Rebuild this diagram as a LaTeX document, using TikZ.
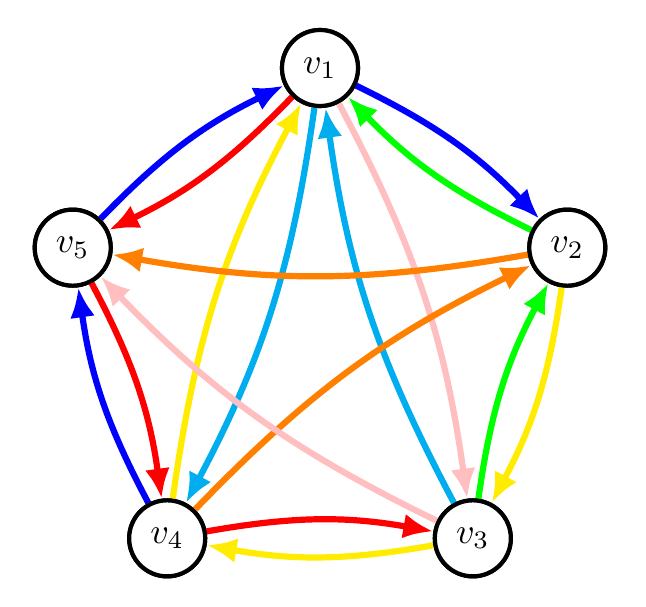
\documentclass[tikz,border=0pt]{standalone}
\usepackage{graphicx}
\usetikzlibrary{arrows.meta}
\definecolor{cBlue}{RGB}{0,0,255}
\definecolor{cRed}{RGB}{255,0,0}
\definecolor{cGreen}{RGB}{0,255,0}
\definecolor{cYellow}{RGB}{255,236,0}
\definecolor{cCyan}{RGB}{0,174,239}
\definecolor{cPink}{RGB}{255,190,192}
\definecolor{cOrange}{RGB}{255,128,0}
\newcommand{\vlab}[1]{\scalebox{3.6}{$v_{#1}$}}
\tikzset{
  vert/.style={circle, draw=black, line width=4.2pt, fill=white, minimum size=76pt, inner sep=0pt},
  edge/.style={line width=6.2pt, -{Latex[length=30pt,width=25pt]}, bend left=10},
}
\begin{document}
\begin{tikzpicture}[x=1pt,y=1pt]
\useasboundingbox (0,0) rectangle (646,606);
\begin{scope}[shift={(320pt,278pt)}]
\node[vert] (v1) at (90:260pt) {\vlab{1}};
\node[vert] (v2) at (18:260pt) {\vlab{2}};
\node[vert] (v3) at (-54:260pt) {\vlab{3}};
\node[vert] (v4) at (-126:260pt) {\vlab{4}};
\node[vert] (v5) at (162:260pt) {\vlab{5}};
\end{scope}
% outer / inner cycle edges
\draw[edge, cBlue] (v5) to (v1);
\draw[edge, cRed] (v1) to (v5);
\draw[edge, cBlue] (v1) to (v2);
\draw[edge, cGreen] (v2) to (v1);
\draw[edge, cYellow] (v2) to (v3);
\draw[edge, cGreen] (v3) to (v2);
\draw[edge, cYellow] (v3) to (v4);
\draw[edge, cRed] (v4) to (v3);
\draw[edge, cBlue] (v4) to (v5);
\draw[edge, cRed] (v5) to (v4);
% diagonals
\draw[edge, cCyan] (v1) to (v4);
\draw[edge, cYellow] (v4) to (v1);
\draw[edge, cPink] (v1) to (v3);
\draw[edge, cCyan] (v3) to (v1);
\draw[edge, cOrange] (v2) to (v5);
\draw[edge, cOrange] (v4) to (v2);
\draw[edge, cPink] (v3) to (v5);
% redraw nodes on top
\begin{scope}[shift={(320pt,278pt)}]
\node[vert] at (90:260pt) {\vlab{1}};
\node[vert] at (18:260pt) {\vlab{2}};
\node[vert] at (-54:260pt) {\vlab{3}};
\node[vert] at (-126:260pt) {\vlab{4}};
\node[vert] at (162:260pt) {\vlab{5}};
\end{scope}
\end{tikzpicture}
\end{document}
